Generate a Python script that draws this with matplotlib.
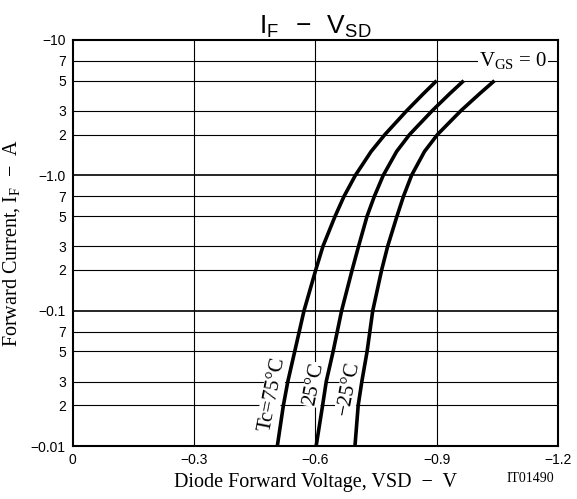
import matplotlib
matplotlib.use("Agg")
import matplotlib.pyplot as plt

# forward current magnitude (A) at which each curve was read
current = [0.01, 0.02, 0.03, 0.05, 0.1, 0.2, 0.3, 0.5, 0.7, 1.0, 1.5, 2.0, 3.0, 4.0, 5.0]
# diode forward voltage (V) per case temperature
vsd_75 = [-0.506, -0.521, -0.532, -0.549, -0.572, -0.601, -0.619, -0.649, -0.671, -0.699,
          -0.738, -0.772, -0.826, -0.867, -0.900]
vsd_25 = [-0.602, -0.618, -0.627, -0.644, -0.665, -0.691, -0.707, -0.728, -0.746, -0.768,
          -0.801, -0.833, -0.889, -0.932, -0.967]
vsd_m25 = [-0.698, -0.706, -0.715, -0.728, -0.742, -0.764, -0.779, -0.802, -0.818, -0.838,
           -0.870, -0.902, -0.960, -1.006, -1.043]

x_ticks = [0, -0.3, -0.6, -0.9, -1.2]
x_tick_labels = ["0", "\u22120.3", "\u22120.6", "\u22120.9", "\u22121.2"]
y_major = [0.01, 0.1, 1.0, 10.0]
y_minor = [0.02, 0.03, 0.05, 0.07, 0.2, 0.3, 0.5, 0.7, 2, 3, 5, 7]
y_ticks = [0.01, 0.02, 0.03, 0.05, 0.07, 0.1, 0.2, 0.3, 0.5, 0.7, 1, 2, 3, 5, 7, 10]
y_tick_labels = ["\u22120.01", "2", "3", "5", "7", "\u22120.1", "2", "3", "5", "7",
                 "\u22121.0", "2", "3", "5", "7", "\u221210"]

plt.rcParams.update({
    "mathtext.fontset": "custom",
    "mathtext.rm": "Liberation Serif",
    "mathtext.sf": "Liberation Sans",
    "mathtext.it": "Liberation Serif:italic",
    "font.family": "Liberation Sans",
})

fig = plt.figure(figsize=(5.77, 4.99), dpi=100)
ax = fig.add_axes([0.126, 0.106, 0.841, 0.814])
ax.set_yscale("log")
ax.set_xlim(0, -1.2)
ax.set_ylim(0.01, 10)

for v in x_ticks[1:-1]:
    ax.axvline(v, color="black", lw=0.8, zorder=1)
for y in y_major[1:-1]:
    ax.axhline(y, color="black", lw=1.2, zorder=1)
for y in y_minor:
    ax.axhline(y, color="black", lw=0.8, zorder=1)

for vs in (vsd_75, vsd_25, vsd_m25):
    ax.plot(vs, current, color="black", lw=2.6, solid_capstyle="butt",
            solid_joinstyle="round", zorder=4)

box = dict(facecolor="white", edgecolor="none", pad=0.6)
ax.text(-0.493, 0.024, "Tc=75\u00b0C", rotation=79, ha="center", va="center",
        family="Liberation Serif", fontsize=15, bbox=box, zorder=3)
ax.text(-0.597, 0.0285, "25\u00b0C", rotation=79, ha="center", va="center",
        family="Liberation Serif", fontsize=15, bbox=box, zorder=3)
ax.text(-0.683, 0.0267, "\u221225\u00b0C", rotation=79, ha="center", va="center",
        family="Liberation Serif", fontsize=15, bbox=box, zorder=3)
ax.text(-1.173, 7, r"$\mathrm{V_{GS}}$ = 0", ha="right", va="center",
        family="Liberation Serif", fontsize=15, bbox=box, zorder=3)

ax.set_xticks(x_ticks)
ax.set_xticklabels(x_tick_labels, fontsize=10)
ax.set_yticks(y_ticks)
ax.set_yticklabels(y_tick_labels, fontsize=10)
ax.minorticks_off()
ax.tick_params(length=0, pad=5)
for s in ax.spines.values():
    s.set_linewidth(1.5)

ax.set_xlabel("Diode Forward Voltage, VSD  \u2212  V", family="Liberation Serif",
              fontsize=14.5, labelpad=4)
ax.set_ylabel("Forward Current, $\\mathrm{I_F}$  \u2212  A",
              family="Liberation Serif", fontsize=14.5, labelpad=6)
ax.set_title(r"$\mathsf{I_F\ \ -\ \ V_{SD}}$", fontsize=19, pad=3)
fig.text(0.919, 0.042, "IT01490", family="Liberation Serif", fontsize=10,
         ha="center", va="center")

fig.savefig("out.png", dpi=100)
